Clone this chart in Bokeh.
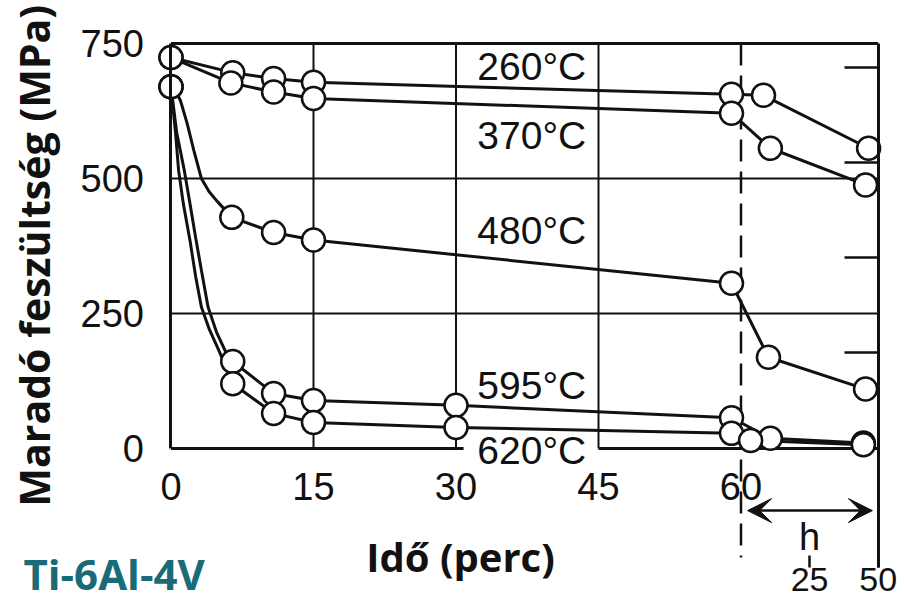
import numpy as np
from bokeh.plotting import figure
from bokeh.models import (ColumnDataSource, FixedTicker, LinearAxis, Range1d,
                          Arrow, VeeHead, Label)
from bokeh.core.properties import value
from bokeh.embed import file_html
from bokeh.resources import INLINE

# ------------------------------------------------------------------ data
TEMPS = ["260°C", "370°C", "480°C", "595°C", "620°C"]

# measured points: minutes part (perc) and hours part (h)
T260_MIN = [0, 6.5, 10.8, 15, 59]
S260_MIN = [724, 696, 685, 678, 656]
T260_H = [8.2, 46.5]
S260_H = [654, 556]

T370_MIN = [0, 6.3, 10.8, 15, 59]
S370_MIN = [724, 677, 660, 648, 621]
T370_H = [10.7, 45.4]
S370_H = [556, 488]

T480_MIN = [0, 6.4, 10.8, 15, 59]
S480_MIN = [670, 428, 400, 386, 306]
T480_H = [10.0, 45.4]
S480_H = [169, 110]
C480_T = [0, 0.5, 1.0, 1.7, 2.4, 3.2, 4.0, 4.8, 6.4]
C480_S = [670, 662, 644, 602, 552, 500, 476, 459, 428]

T595_MIN = [0, 6.5, 10.8, 15, 30, 59]
S595_MIN = [670, 161, 102, 89, 80, 57]
T595_H = [10.7, 44.6]
S595_H = [19, 10]
C595_T = [0, 0.6, 1.4, 2.0, 2.6, 3.2, 3.9, 4.8, 5.7, 6.5]
C595_S = [670, 585, 515, 453, 390, 330, 262, 215, 181, 161]

T620_MIN = [0, 6.5, 10.8, 15, 30, 59]
S620_MIN = [670, 120, 65, 48, 39, 28]
T620_H = [3.5, 44.6]
S620_H = [15, 7]
C620_T = [0, 0.5, 0.8, 1.3, 2.0, 2.6, 3.2, 4.0, 5.0, 5.8, 6.5]
C620_S = [670, 580, 515, 453, 385, 318, 262, 222, 183, 150, 120]

MIN_TICKS = [0, 15, 30, 45, 60]
MPA_TICKS = [0, 250, 500, 750]
HOUR_TICKS = [25, 50]
RIGHT_TICKS = [178, 354, 530, 706]
GRID_MIN = [15, 30, 45]
GRID_MPA = [250, 500]

# ------------------------------------------------------------------ layout constants
W, H = 900, 608
X_START, X_END = -17.947, 76.789       # minutes scale, spans the whole canvas
Y_START, Y_END = -296.3, 829.6         # MPa scale
BREAK = 60                             # minutes -> hours break
X_BOX_RIGHT = 74.44                    # right edge of the box (= 50 h)
HOUR_MAX = 50
K = (X_BOX_RIGHT - BREAK) / HOUR_MAX   # minute-units per hour
Y_TOP = 750
GAP = (30.8, 45)                       # bottom line hidden behind the 620 label
DASH_BOTTOM = -202
RIGHT_BOTTOM = -220
HOUR_AXIS_Y = -198
ARROW_H = (2.4, 47.9)
ARROW_Y = -115
LABEL_X = 43.7
LABEL_Y = [708, 580, 404, 117, -3]

INK = "#111111"


def h2x(hours):
    return [BREAK + h * K for h in hours]


series = [
    (T260_MIN, S260_MIN, T260_H, S260_H, None, None),
    (T370_MIN, S370_MIN, T370_H, S370_H, None, None),
    (T480_MIN, S480_MIN, T480_H, S480_H, C480_T, C480_S),
    (T595_MIN, S595_MIN, T595_H, S595_H, C595_T, C595_S),
    (T620_MIN, S620_MIN, T620_H, S620_H, C620_T, C620_S),
]

p = figure(width=W, height=H,
           x_range=Range1d(X_START, X_END), y_range=Range1d(Y_START, Y_END),
           output_backend="svg", toolbar_location=None,
           min_border=0, outline_line_color=None)
p.extra_x_ranges = {"hours": Range1d((X_START - BREAK) / K, (X_END - BREAK) / K)}
p.xgrid.visible = False
p.ygrid.visible = False

# grid lines
p.segment(x0=GRID_MIN, y0=[0] * len(GRID_MIN), x1=GRID_MIN, y1=[Y_TOP] * len(GRID_MIN),
          line_color=INK, line_width=2)
p.segment(x0=[0] * len(GRID_MPA), y0=GRID_MPA, x1=[X_BOX_RIGHT] * len(GRID_MPA), y1=GRID_MPA,
          line_color=INK, line_width=2)
# box: top and bottom (bottom interrupted behind the label column)
p.segment(x0=[0, 0, GAP[1]], y0=[Y_TOP, 0, 0], x1=[X_BOX_RIGHT, GAP[0], X_BOX_RIGHT], y1=[Y_TOP, 0, 0],
          line_color=INK, line_width=3)
# dashed break line
p.segment(x0=[BREAK], y0=[Y_TOP], x1=[BREAK], y1=[DASH_BOTTOM],
          line_color=INK, line_width=2.5, line_dash="22 10")

# series lines and markers
for t_min, s_min, t_h, s_h, c_t, c_s in series:
    if c_t is not None:
        xs = list(c_t) + list(t_min[2:])
        ys = list(c_s) + list(s_min[2:])
    else:
        xs = list(t_min)
        ys = list(s_min)
    xs += h2x(t_h)
    ys += list(s_h)
    p.line(xs, ys, line_color=INK, line_width=3)
for t_min, s_min, t_h, s_h, c_t, c_s in series:
    src = ColumnDataSource(dict(x=list(t_min) + h2x(t_h), y=list(s_min) + list(s_h)))
    p.scatter("x", "y", source=src, marker="circle", size=23,
              fill_color="white", line_color=INK, line_width=2.5)

# temperature labels
lab_src = ColumnDataSource(dict(x=[LABEL_X] * len(TEMPS), y=LABEL_Y, t=TEMPS))
p.text("x", "y", text="t", source=lab_src, text_font=value("Liberation Sans"),
       text_font_size=value("39px"), text_align="right", text_baseline="alphabetic",
       text_color=INK)

# axes
TICK_FONT = "Liberation Sans"
xa = p.xaxis[0]
xa.fixed_location = 0
xa.bounds = (0, X_BOX_RIGHT)
xa.ticker = FixedTicker(ticks=MIN_TICKS)
xa.axis_line_color = None
xa.major_tick_line_color = None
xa.minor_tick_line_color = None
xa.major_label_text_font = TICK_FONT
xa.major_label_text_font_size = "38px"
xa.major_label_text_color = INK
xa.major_label_standoff = 19

ya = p.yaxis[0]
ya.fixed_location = 0
ya.bounds = (0, Y_TOP)
ya.ticker = FixedTicker(ticks=MPA_TICKS)
ya.axis_line_color = INK
ya.axis_line_width = 3
ya.major_tick_line_color = None
ya.minor_tick_line_color = None
ya.major_label_text_font = TICK_FONT
ya.major_label_text_font_size = "38px"
ya.major_label_text_color = INK
ya.major_label_standoff = 21

ra = LinearAxis(fixed_location=X_BOX_RIGHT, bounds=(RIGHT_BOTTOM, Y_TOP),
                ticker=FixedTicker(ticks=RIGHT_TICKS),
                axis_line_color=INK, axis_line_width=3,
                major_tick_in=34, major_tick_out=0, major_tick_line_width=2.5,
                major_tick_line_color=INK, minor_tick_line_color=None,
                major_label_text_alpha=0)
p.add_layout(ra, "right")

ha = LinearAxis(x_range_name="hours", fixed_location=HOUR_AXIS_Y, bounds=(0, HOUR_MAX),
                ticker=FixedTicker(ticks=HOUR_TICKS),
                axis_line_color=None, major_tick_out=12, major_tick_in=0,
                major_tick_line_width=2.5, major_tick_line_color=INK,
                minor_tick_line_color=None,
                major_label_text_font=TICK_FONT, major_label_text_font_size="34px",
                major_label_text_color=INK, major_label_standoff=1)
p.add_layout(ha, "below")

# arrow for the hours section
p.add_layout(Arrow(x_range_name="hours", x_start=ARROW_H[0], y_start=ARROW_Y,
                   x_end=ARROW_H[1], y_end=ARROW_Y, line_width=2.5, line_color=INK,
                   start=VeeHead(size=24, fill_color=INK, line_color=INK),
                   end=VeeHead(size=24, fill_color=INK, line_color=INK)))
p.add_layout(Label(x_range_name="hours", x=25, y=-163, text="h",
                   text_font=TICK_FONT, text_font_size="38px", text_color=INK,
                   text_align="center", text_baseline="alphabetic"))

# titles
p.add_layout(Label(x=-14.37, y=357, text="Maradó feszültség (MPa)", angle=np.pi / 2,
                   text_font="Open Sans", text_font_style="bold", text_font_size="41px",
                   text_color=INK, text_align="center", text_baseline="middle"))
p.add_layout(Label(x=30.47, y=-200, text="Idő (perc)",
                   text_font="Open Sans", text_font_style="bold", text_font_size="40px",
                   text_color=INK, text_align="center", text_baseline="alphabetic"))
p.add_layout(Label(x=-15.53, y=-231, text="Ti-6Al-4V",
                   text_font="Open Sans", text_font_style="bold", text_font_size="42px",
                   text_color="#1a6b78", text_align="left", text_baseline="alphabetic"))

open("out.html", "w").write(file_html(p, INLINE))
